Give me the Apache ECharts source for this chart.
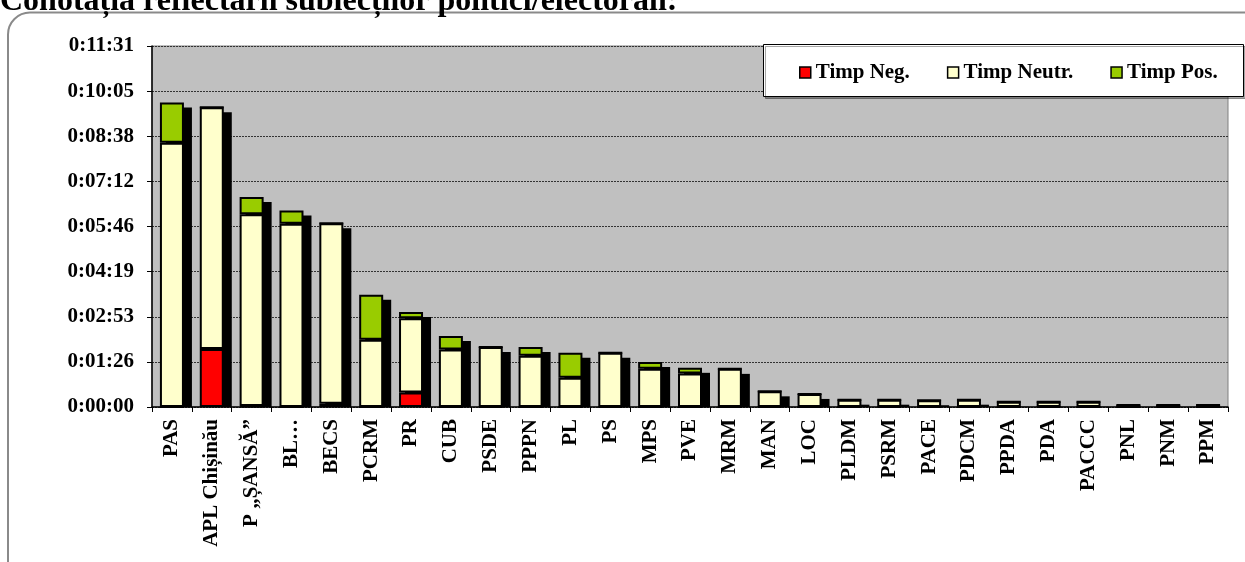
<!DOCTYPE html>
<html>
<head>
<meta charset="utf-8">
<script src="https://cdn.jsdelivr.net/npm/echarts@6/dist/echarts.min.js"></script>
<style>
html,body{margin:0;padding:0;background:#fff;}
#chart{width:1245px;height:562px;}
</style>
</head>
<body>
<div id="chart"></div>
<script>
// Data (values in seconds)
const categories = ['PAS','APL Chișinău','P „ȘANSĂ”','BL…','BECS','PCRM','PR','CUB','PSDE','PPPN','PL','PS','MPS','PVE','MRM','MAN','LOC','PLDM','PSRM','PACE','PDCM','PPDA','PDA','PACCC','PNL','PNM','PPM'];
const timpNeg   = [0, 111, 2, 0, 6, 0, 28, 0, 0, 0, 0, 0, 0, 0, 0, 0, 0, 0, 0, 0, 0, 0, 0, 0, 0, 0, 0];
const timpNeutr = [506, 463, 367, 351, 346, 129, 142, 110, 115, 98, 56, 104, 73, 64, 73, 30, 25, 14, 14, 13, 14, 10, 10, 10, 4, 4, 4];
const timpPos   = [77, 0, 33, 25, 0, 86, 12, 26, 0, 17, 48, 0, 13, 11, 0, 0, 0, 0, 0, 0, 0, 0, 0, 0, 0, 0, 0];
const tickLabels = ['0:00:00','0:01:26','0:02:53','0:04:19','0:05:46','0:07:12','0:08:38','0:10:05','0:11:31'];
const seriesNames = ['Timp Neg.','Timp Neutr.','Timp Pos.'];
const tickStep = 86.4;

const totals = categories.map((c, i) => [i, timpNeg[i] + timpNeutr[i] + timpPos[i]]);

const FONT = '"Liberation Serif", "Times New Roman", serif';
const chart = echarts.init(document.getElementById('chart'));

const barBase = {
  type: 'bar', stack: 'total', barWidth: 24, z: 3,
  emphasis: { disabled: true }
};

chart.setOption({
  animation: false,
  backgroundColor: '#fff',
  graphic: [
    { type: 'rect', z: -10, silent: true,
      shape: { x: 8, y: 12.5, width: 1300, height: 620, r: 22 },
      style: { fill: '#fff', stroke: '#8a8a8a', lineWidth: 2 } },
    { type: 'text', z: 10, silent: true, left: 0, top: -14,
      style: { text: 'Conotația reflectării subiecților politici/electorali:', fontFamily: FONT, fontWeight: 'bold', fontSize: 32, fill: '#000' } },
    { type: 'rect', z: 5, silent: true,
      shape: { x: 763.5, y: 44.5, width: 480, height: 52 },
      style: { fill: '#fff', stroke: '#000', lineWidth: 1, shadowColor: 'rgba(0,0,0,0.35)', shadowOffsetX: 2, shadowOffsetY: 2 } }
  ],
  legend: {
    z: 20,
    left: 794, top: 57,
    data: seriesNames,
    icon: 'rect', itemWidth: 11, itemHeight: 11, itemGap: 37,
    itemStyle: { borderColor: '#000', borderWidth: 1.5 },
    textStyle: { fontFamily: FONT, fontWeight: 'bold', fontSize: 21, color: '#000' }
  },
  grid: {
    left: 152, right: 17, top: 46, bottom: 155,
    show: true, backgroundColor: '#C0C0C0', borderColor: '#808080', borderWidth: 1
  },
  xAxis: {
    type: 'category', data: categories,
    axisLine: { lineStyle: { color: '#000', width: 1.5 } },
    axisTick: { show: true, length: 5, lineStyle: { color: '#000' } },
    axisLabel: { rotate: 90, interval: 0, margin: 12, fontFamily: FONT, fontWeight: 'bold', fontSize: 21, color: '#000' }
  },
  yAxis: {
    type: 'value', min: 0, max: tickStep * 8, interval: tickStep,
    axisLine: { show: true, lineStyle: { color: '#000', width: 1.5 } },
    axisTick: { show: true, length: 5, lineStyle: { color: '#000' } },
    splitLine: { show: true, lineStyle: { color: '#333', type: [2, 1], width: 1 } },
    axisLabel: {
      margin: 18, fontFamily: FONT, fontWeight: 'bold', fontSize: 21, color: '#000',
      formatter: (v) => tickLabels[Math.round(v / tickStep)]
    }
  },
  series: [
    { type: 'custom', name: 'shadow', z: 2, silent: true,
      data: totals,
      renderItem: function (params, api) {
        const top = api.coord([api.value(0), api.value(1)]);
        const base = api.coord([api.value(0), 0]);
        const w = 26;
        const h = Math.max(0, base[1] - top[1] - 5);
        return { type: 'rect',
          shape: { x: top[0] - w / 2 + 7, y: base[1] - h, width: w, height: h },
          style: { fill: '#000' } };
      }
    },
    Object.assign({}, barBase, { name: seriesNames[0], data: timpNeg, itemStyle: { color: '#FF0000', borderColor: '#000', borderWidth: 2 } }),
    Object.assign({}, barBase, { name: seriesNames[1], data: timpNeutr, itemStyle: { color: '#FFFFCC', borderColor: '#000', borderWidth: 2 } }),
    Object.assign({}, barBase, { name: seriesNames[2], data: timpPos, itemStyle: { color: '#99CC00', borderColor: '#000', borderWidth: 2 } })
  ]
});
</script>
</body>
</html>
